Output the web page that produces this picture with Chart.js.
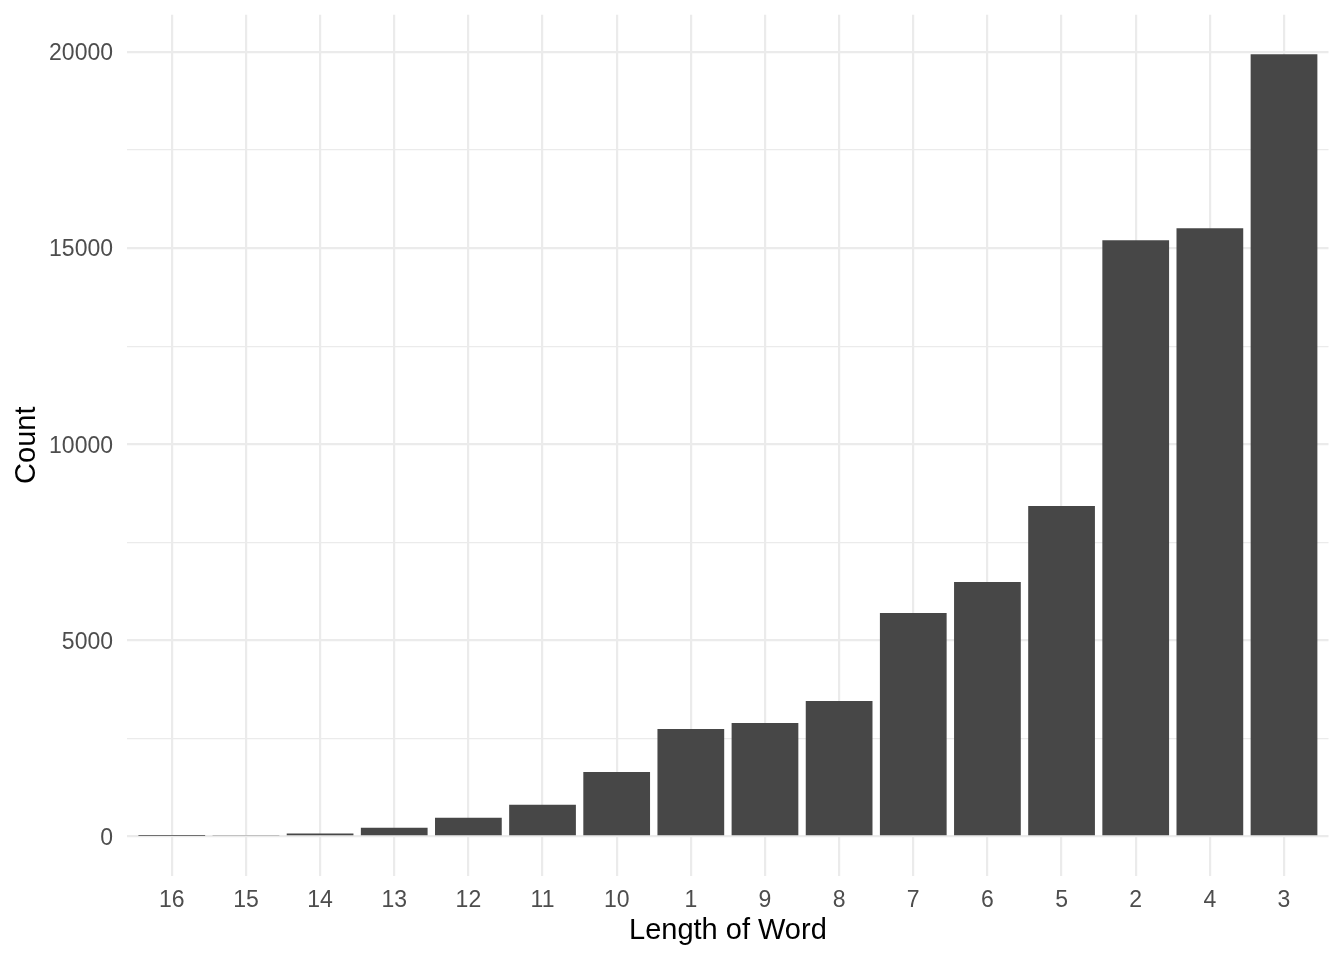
<!DOCTYPE html>
<html>
<head>
<meta charset="utf-8">
<script src="https://cdn.jsdelivr.net/npm/chart.js@4.4.1/dist/chart.umd.min.js"></script>
<style>
  html, body { margin: 0; padding: 0; background: #ffffff; }
  #wrap { width: 1344px; height: 960px; }
</style>
</head>
<body>
<div id="wrap"><canvas id="c" width="1344" height="960"></canvas></div>
<script>
const categories = ["16", "15", "14", "13", "12", "11", "10", "1", "9", "8", "7", "6", "5", "2", "4", "3"];
const counts = [10, 40, 75, 222, 477, 808, 1646, 2742, 2895, 3455, 5697, 6487, 8424, 15202, 15508, 19941];
const yTickValues = [0, 2500, 5000, 7500, 10000, 12500, 15000, 17500, 20000];
const yLabelValues = [0, 5000, 10000, 15000, 20000];

const FONT = '"Liberation Sans", Arial, Helvetica, sans-serif';
const GRID = '#ebebeb';

const points = counts.map((v, i) => ({ x: i, y: v }));

new Chart(document.getElementById('c'), {
  type: 'bar',
  data: {
    datasets: [{
      data: points,
      backgroundColor: '#474747',
      borderWidth: 0,
      barPercentage: 0.9,
      categoryPercentage: 1.0
    }]
  },
  options: {
    responsive: false,
    animation: false,
    devicePixelRatio: 1,
    layout: { padding: { top: 14.8, right: 15.5, left: 0, bottom: 0 } },
    plugins: { legend: { display: false }, tooltip: { enabled: false } },
    scales: {
      x: {
        type: 'linear',
        offset: false,
        min: -0.6,
        max: categories.length - 0.4,
        afterBuildTicks: (s) => { s.ticks = categories.map((_, i) => ({ value: i })); },
        afterFit: (s) => { s.height = 84.4; s.paddingLeft = 0; s.paddingRight = 0; },
        grid: { offset: false, color: GRID, lineWidth: 2.2, drawTicks: false },
        border: { display: false },
        ticks: {
          padding: 11.5,
          color: '#4d4d4d',
          font: { family: FONT, size: 23 },
          maxRotation: 0,
          autoSkip: false,
          callback: (v) => categories[v] ?? ''
        },
        title: {
          display: true,
          text: 'Length of Word',
          color: '#000000',
          font: { family: FONT, size: 29 },
          padding: { top: 0, bottom: 12 }
        }
      },
      y: {
        type: 'linear',
        min: -998,
        max: 20948,
        afterBuildTicks: (s) => { s.ticks = yTickValues.map(v => ({ value: v })); },
        afterFit: (s) => { s.width = 127.3; s.paddingTop = 0; s.paddingBottom = 0; },
        grid: {
          color: GRID,
          drawTicks: false,
          lineWidth: (ctx) => (ctx.tick && yLabelValues.includes(ctx.tick.value)) ? 2.2 : 1.2
        },
        border: { display: false },
        ticks: {
          padding: 14.3,
          labelOffset: 2,
          color: '#4d4d4d',
          font: { family: FONT, size: 23 },
          autoSkip: false,
          callback: (v) => yLabelValues.includes(v) ? String(v) : ''
        },
        title: {
          display: true,
          text: 'Count',
          color: '#000000',
          font: { family: FONT, size: 29 },
          padding: { top: 9.5, bottom: 0 }
        }
      }
    }
  }
});
</script>
</body>
</html>
